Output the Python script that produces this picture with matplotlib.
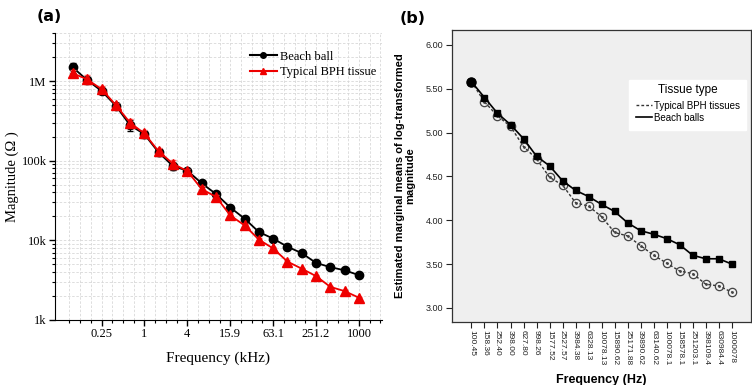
import numpy as np
import matplotlib
matplotlib.use("Agg")
import matplotlib.pyplot as plt
from matplotlib.ticker import FixedLocator, NullFormatter
from matplotlib.lines import Line2D

# ---- panel (a) data: impedance magnitude (ohm) vs frequency (kHz)
freq_khz = [0.1, 0.158, 0.252, 0.398, 0.628, 0.998, 1.578, 2.528, 3.984, 6.328,
            10.08, 15.89, 25.17, 39.89, 63.14, 100.1, 158.6, 251.2, 398.1, 631.0, 1000.1]
beach_mag = [1.48e6, 1.03e6, 7.5e5, 4.9e5, 2.8e5, 2.15e5, 1.27e5, 8.5e4, 7.5e4, 5.2e4,
             3.8e4, 2.58e4, 1.87e4, 1.27e4, 1.05e4, 8.3e3, 6.9e3, 5.2e3, 4.6e3, 4.2e3, 3.65e3]
bph_mag = [1.25e6, 1.05e6, 7.9e5, 5.0e5, 3.0e5, 2.2e5, 1.31e5, 9.1e4, 7.4e4, 4.4e4,
           3.5e4, 2.05e4, 1.54e4, 1.02e4, 7.9e3, 5.4e3, 4.4e3, 3.55e3, 2.6e3, 2.3e3, 1.9e3]
beach_err = [0.30, 0.18, 0.15, 0.18, 0.30, 0.20, 0.18, 0.18, 0.12, 0.12,
             0.12, 0.10, 0.10, 0.12, 0.08, 0.07, 0.07, 0.06, 0.06, 0.06, 0.06]
bph_err = [0.20, 0.25, 0.18, 0.15, 0.20, 0.22, 0.20, 0.25, 0.10, 0.18,
           0.12, 0.12, 0.10, 0.10, 0.10, 0.07, 0.07, 0.07, 0.06, 0.06, 0.06]
a_xticks = [10 ** (0.6 * k) for k in range(-1, 6)]
a_xticklabels = ["0.25", "1", "4", "15.9", "63.1", "251.2", "1000"]
a_yticks = [1e3, 1e4, 1e5, 1e6]
a_yticklabels = ["1k", "10k", "100k", "1M"]

# ---- panel (b) data: estimated marginal means of log10 magnitude
freq_hz_labels = ["100.45", "158.36", "252.40", "398.00", "627.80", "998.26", "1577.52",
                  "2527.57", "3984.38", "6328.13", "10078.13", "15890.62", "25171.88",
                  "39890.62", "63140.62", "100078.1", "158578.1", "251203.1", "398109.4",
                  "630984.4", "1000078"]
bph_mean = [5.58, 5.35, 5.19, 5.07, 4.84, 4.70, 4.49, 4.40, 4.20, 4.16, 4.04,
            3.86, 3.82, 3.71, 3.60, 3.51, 3.42, 3.39, 3.27, 3.25, 3.18]
beach_mean = [5.58, 5.40, 5.22, 5.09, 4.93, 4.73, 4.62, 4.45, 4.34, 4.27, 4.18,
              4.10, 3.97, 3.88, 3.84, 3.79, 3.72, 3.60, 3.56, 3.56, 3.50]

fig = plt.figure(figsize=(7.52, 3.85), dpi=100)
serif = "Liberation Serif"
sans = "Liberation Sans"

# ================= panel (a)
ax1 = fig.add_axes([0.073, 0.169, 0.435, 0.745])
ax1.set_xscale("log")
ax1.set_yscale("log")
be = np.array(beach_err)
re = np.array(bph_err)
bm = np.array(beach_mag)
rm = np.array(bph_mag)
ax1.errorbar(freq_khz, beach_mag, yerr=[bm * be / 2, bm * be / 2], color="black",
             marker="o", ms=6, lw=1.3, elinewidth=0.7, capsize=2, zorder=3)
ax1.errorbar(freq_khz, bph_mag, yerr=[rm * re / 2, rm * re / 2], color="#ee0000",
             ecolor="#ff6666", marker="^", ms=6.5, lw=1.3, elinewidth=0.7, capsize=2,
             zorder=4)
ax1.set_xlim(0.056, 2100)
ax1.set_ylim(1e3, 4e6)

ax1.xaxis.set_major_locator(FixedLocator(a_xticks))
ax1.set_xticklabels(a_xticklabels)
minor_x = [10 ** (0.15 * k) for k in range(-8, 23) if k % 4 != 0]
ax1.xaxis.set_minor_locator(FixedLocator(minor_x))
ax1.xaxis.set_minor_formatter(NullFormatter())
ax1.yaxis.set_major_locator(FixedLocator(a_yticks))
ax1.set_yticklabels(a_yticklabels)
ax1.yaxis.set_minor_formatter(NullFormatter())

ax1.grid(True, which="both", color="#d8d8d8", ls=(0, (3, 2)), lw=0.6)
for s in ["top", "right"]:
    ax1.spines[s].set_visible(False)
ax1.tick_params(which="major", direction="out", length=4, width=1, labelsize=9, pad=2)
ax1.tick_params(which="minor", direction="out", length=2.5, width=0.8)
for lab in ax1.get_xticklabels() + ax1.get_yticklabels():
    lab.set_fontfamily(serif)
ax1.set_xlabel("Frequency (kHz)", fontfamily=serif, fontsize=11, labelpad=8)
ax1.set_ylabel("Magnitude (Ω )", fontfamily=serif, fontsize=10.5, labelpad=2)
handles_a = [Line2D([], [], color="black", marker="o", ms=4, lw=1.5),
             Line2D([], [], color="#ee0000", marker="^", ms=4, lw=1.5)]
ax1.legend(handles_a, ["Beach ball", "Typical BPH tissue"], loc="upper right",
           bbox_to_anchor=(1.0, 0.96), frameon=False,
           prop={"family": serif, "size": 9}, handlelength=2.2,
           handletextpad=0.2, borderaxespad=0.1, labelspacing=0.25)
fig.text(0.049, 0.945, "(a)", fontsize=11.5, fontweight="bold", family="DejaVu Sans")

# ================= panel (b)
ax2 = fig.add_axes([0.601, 0.164, 0.398, 0.758])
ax2.set_facecolor("#efefef")
xs = np.arange(len(freq_hz_labels))
ax2.plot(xs, bph_mean, color="#333333", ls=(0, (2, 1.5)), lw=1.0, marker="o",
         ms=6, mfc="none", mec="#444444", mew=0.9, label="Typical BPH tissues")
ax2.plot(xs, bph_mean, ls="none", marker=".", ms=2, color="#444444")
ax2.plot(xs, beach_mean, color="black", lw=1.2, marker="s", ms=5,
         label="Beach balls")
ax2.plot(xs[:1], beach_mean[:1], ls="none", marker="o", ms=6.5, color="black")
ax2.set_xlim(-1.5, 21.5)
ax2.set_ylim(2.84, 6.17)
ax2.set_yticks([3.0, 3.5, 4.0, 4.5, 5.0, 5.5, 6.0])
ax2.set_yticklabels(["3.00", "3.50", "4.00", "4.50", "5.00", "5.50", "6.00"])
ax2.set_xticks(xs)
ax2.set_xticklabels(freq_hz_labels, rotation=-90)
ax2.tick_params(direction="out", length=4, width=0.8, labelsize=6.5, colors="#222222",
                pad=2)
ax2.tick_params(axis="x", labelsize=6)
for lab in ax2.get_xticklabels() + ax2.get_yticklabels():
    lab.set_fontfamily(sans)
for s in ax2.spines.values():
    s.set_color("#333333")
    s.set_linewidth(0.9)
ax2.set_xlabel("Frequency (Hz)", fontfamily=sans, fontsize=9, fontweight="bold",
               labelpad=6)
ax2.set_ylabel("Estimated marginal means of log-transformed\nmagnitude",
               fontfamily=sans, fontsize=8, fontweight="bold", labelpad=8,
               linespacing=1.0)
leg2 = ax2.legend(loc="upper right", bbox_to_anchor=(1.0, 0.845), frameon=True,
                  fancybox=False, edgecolor="white", facecolor="white", framealpha=1,
                  title="Tissue type", prop={"family": sans, "size": 7},
                  title_fontproperties={"family": sans, "size": 8.5},
                  handlelength=1.6, handletextpad=0.2, borderpad=0.7,
                  labelspacing=0.2)
for h in leg2.legend_handles:
    h.set_marker("")
leg2.get_title().set_position((0, 3))
fig.text(0.532, 0.94, "(b)", fontsize=11.5, fontweight="bold", family="DejaVu Sans")

fig.savefig("out.png", dpi=100)
